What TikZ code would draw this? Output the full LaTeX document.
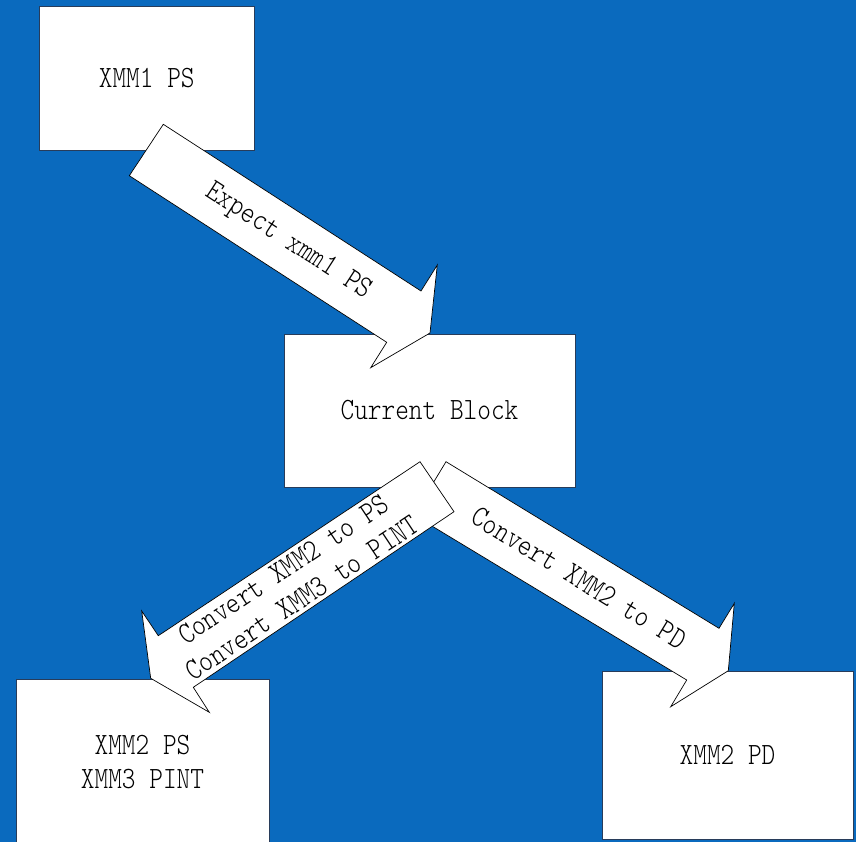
\documentclass[tikz,border=0pt]{standalone}
\usepackage{fontspec}
\newfontfamily\labfont[FakeStretch=0.84]{lmmonolt10-regular.otf}
\definecolor{bgblue}{RGB}{10,106,190}
\definecolor{boxline}{RGB}{40,60,90}

\begin{document}
\begin{tikzpicture}[x=1pt,y=-1pt,
  box/.style={draw=boxline, line width=0.8pt, fill=white, inner sep=0pt},
  blockarrow/.style={draw=black, line width=0.7pt, fill=white, line join=miter},
  lab/.style={font=\labfont\fontsize{31}{34}\selectfont, align=center, inner sep=0pt, text=black}]
  % canvas
  \fill[bgblue] (0,0) rectangle (856,842);
  \useasboundingbox (0,0) rectangle (856,842);
  \begin{scope}
    \clip (0,0) rectangle (856,842);

    % blocks
    \node[box, lab, minimum width=214.5pt, minimum height=143.5pt] (xmmone) at (146.75,78.25) {XMM1 PS};
    \node[box, lab, minimum width=291pt, minimum height=153pt] (cur) at (429.5,410.5) {Current Block};
    \node[box, lab, minimum width=253pt, minimum height=167pt] (psint) at (142.5,762.5) {XMM2 PS\\XMM3 PINT};
    \node[box, lab, minimum width=251pt, minimum height=168pt] (pd) at (727.5,755) {XMM2 PD};

    % block arrow: XMM1 PS -> Current Block
    \draw[blockarrow] (163.3,124.3) -- (421,291) -- (437.3,265) -- (430,333)
      -- (370.7,367.7) -- (386.7,342.3) -- (129.3,175.7) -- cycle;
    \node[lab, rotate=-32.9] (lblexp) at (288,242) {Expect xmm1 PS};

    % block arrow: Current Block -> XMM2 PD
    \draw[blockarrow] (446,461.7) -- (719,628.3) -- (734.3,603.3) -- (728.3,670.7)
      -- (670.7,706.7) -- (686.7,680) -- (413.7,515) -- cycle;
    \node[lab, rotate=-31.4] (lblpd) at (579,578) {Convert XMM2 to PD};

    % block arrow: Current Block -> XMM2 PS / XMM3 PINT
    \draw[blockarrow] (420,461.7) -- (158.3,635.7) -- (141.7,611) -- (150.7,678.3)
      -- (209.3,712.3) -- (193.3,687.3) -- (454,511.7) -- cycle;
    \node[lab, rotate=33.6] (lblps) at (292.8,583.6) {Convert XMM2 to PS\\Convert XMM3 to PINT};
  \end{scope}
\end{tikzpicture}
\end{document}
